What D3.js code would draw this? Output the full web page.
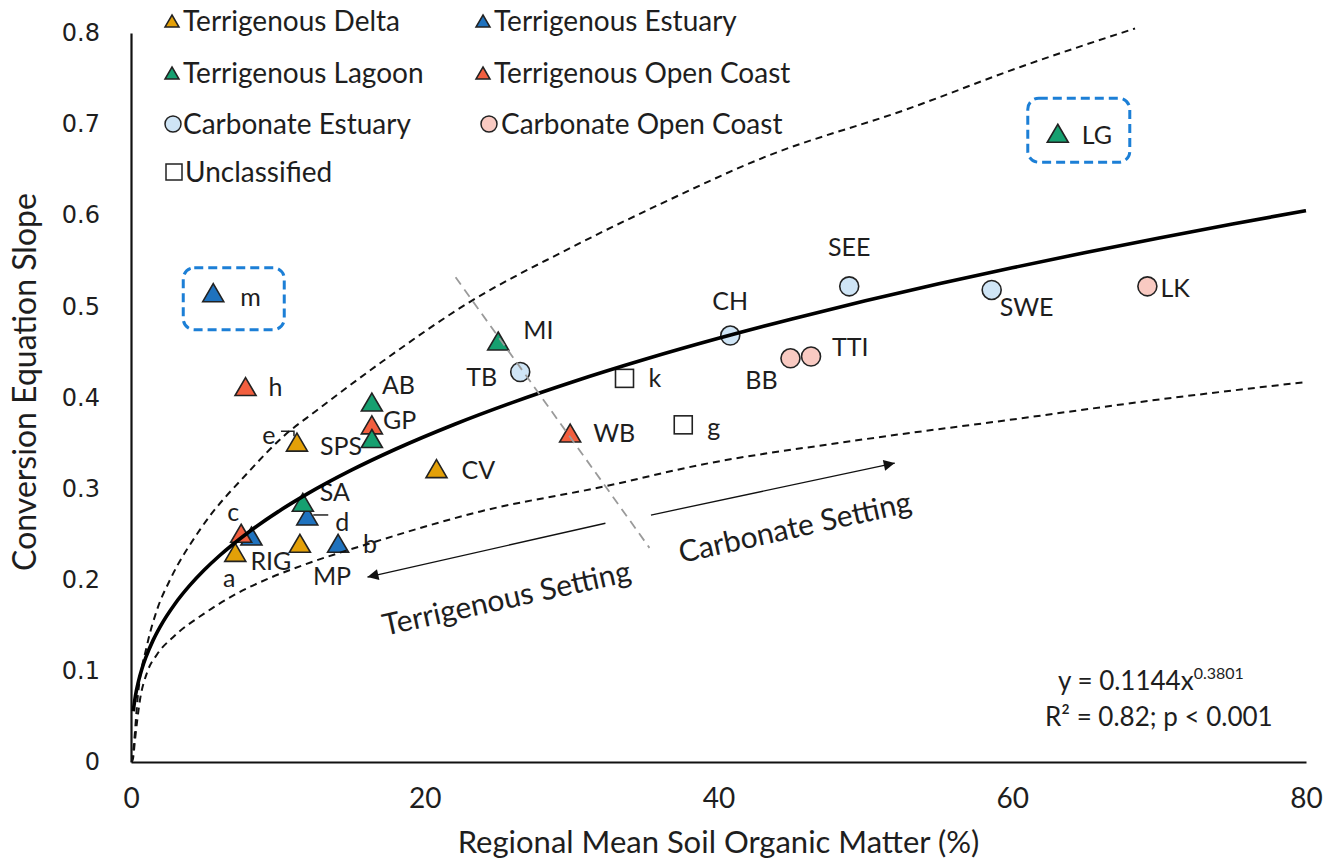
<!DOCTYPE html>
<html><head><meta charset="utf-8">
<script src="https://cdn.jsdelivr.net/npm/d3@7"></script>
<style>
body{margin:0;background:#fff}
svg{display:block}
text{font-family:Lato, "Open Sans", sans-serif; fill:#1e1e1e}
</style>
</head><body>
<svg id="chart" width="1326" height="868"></svg>
<script>
// ---------------- DATA ----------------
const xTicks = [0, 20, 40, 60, 80];
const xTickLabels = ["0", "20", "40", "60", "80"];
const yTicks = [0, 0.1, 0.2, 0.3, 0.4, 0.5, 0.6, 0.7, 0.8];
const yTickLabels = ["0", "0.1", "0.2", "0.3", "0.4", "0.5", "0.6", "0.7", "0.8"];

const seriesNames = ["Terrigenous Delta", "Terrigenous Estuary", "Terrigenous Lagoon",
  "Terrigenous Open Coast", "Carbonate Estuary", "Carbonate Open Coast", "Unclassified"];

// [soil organic matter %, conversion slope, site label]
const terrDelta   = [[7.1, 0.230, "a"], [11.3, 0.351, "SPS"], [11.5, 0.240, "MP"], [20.8, 0.322, "CV"]];
const terrEstuary = [[5.6, 0.515, "m"], [8.2, 0.248, "RIG"], [12.0, 0.270, "d"], [14.1, 0.240, "b"]];
const terrOpen    = [[7.8, 0.412, "h"], [7.5, 0.251, "c"], [16.4, 0.370, "GP"], [29.9, 0.361, "WB"]];
const terrLagoon  = [[63.1, 0.690, "LG"], [25.0, 0.462, "MI"], [16.4, 0.395, "AB"], [16.4, 0.355, ""], [11.7, 0.285, "SA"]];
const carbEstuary = [[26.5, 0.428, "TB"], [40.8, 0.468, "CH"], [48.9, 0.522, "SEE"], [58.6, 0.518, "SWE"]];
const carbOpen    = [[44.9, 0.443, "BB"], [46.3, 0.445, "TTI"], [69.2, 0.522, "LK"]];
const unclassified = [[33.6, 0.421, "k"], [37.6, 0.370, "g"]];

// power trendline shown in the chart: y = 0.1144 x^0.3801
const fitCoef = 0.1144, fitExp = 0.3801;
const fitX = [0.15, 0.3, 0.5, 0.75, 1, 1.5, 2, 3, 4, 5, 6, 8, 10, 12, 15, 18, 22, 26, 30, 35, 40, 45, 50, 55, 60, 65, 70, 75, 80];

// dashed envelope curves
const upperBandX = [0.05, 0.14, 0.48, 1.09, 1.77, 2.66, 4.70, 8.10, 10.35, 12.66, 17.16, 23.08, 29.41, 36.0, 43.17, 52.77, 60.60, 68.36];
const upperBandY = [0.0, 0.010, 0.075, 0.128, 0.167, 0.200, 0.255, 0.320, 0.357, 0.386, 0.440, 0.505, 0.560, 0.612, 0.664, 0.716, 0.763, 0.805];
const lowerBandX = [0.05, 0.14, 0.27, 0.61, 1.09, 1.77, 2.86, 4.90, 7.22, 9.46, 11.71, 16.48, 23.8, 32.41, 38.74, 49.0, 60.53, 70.1, 80.0];
const lowerBandY = [0.0, 0.004, 0.024, 0.068, 0.098, 0.118, 0.137, 0.162, 0.185, 0.202, 0.216, 0.241, 0.275, 0.303, 0.326, 0.352, 0.377, 0.398, 0.417];

// setting divider and arrows (data coordinates)
const dividerX = [22.1, 35.3], dividerY = [0.532, 0.235];
const terrArrowX = [32.3, 16.1], terrArrowY = [0.262, 0.203];
const carbArrowX = [35.4, 52.0], carbArrowY = [0.271, 0.328];
const settingLabels = ["Terrigenous Setting", "Carbonate Setting"];
const eqLine1 = ["y = 0.1144x", "0.3801"];
const eqLine2 = "R² = 0.82; p < 0.001";
const xTitle = "Regional Mean Soil Organic Matter (%)";
const yTitle = "Conversion Equation Slope";

// ---------------- STYLE ----------------
const seriesStyle = [
  {data: terrDelta,   shape: "tri", fill: "#E3A008"},
  {data: terrEstuary, shape: "tri", fill: "#1F72BE"},
  {data: terrLagoon,  shape: "tri", fill: "#16A070"},
  {data: terrOpen,    shape: "tri", fill: "#F25F3F"},
  {data: carbEstuary, shape: "circ", fill: "#CFE5F6"},
  {data: carbOpen,    shape: "circ", fill: "#F9CAC2"},
  {data: unclassified, shape: "sq", fill: "#FFFFFF"}
];
// draw order (lagoon drawn over open coast)
const drawOrder = [0, 1, 3, 2, 4, 5, 6];

// label offsets in px: [dx, dy, anchor]
const labelPos = {
  a: [-6, 26, "middle"], SPS: [23, 4, "start"], MP: [13, 33, "start"], CV: [25, 2, "start"],
  m: [27, 5, "start"], RIG: [-1, 25, "start"], d: [28, 6, "start"], b: [25, 1, "start"],
  LG: [24, 2, "start"], MI: [25, -11, "start"], AB: [10, -17, "start"], SA: [17, -10, "start"],
  h: [23, 1, "start"], c: [-8, -21, "middle"], GP: [11, -5, "start"], WB: [23, 0, "start"],
  TB: [-23, 5, "end"], CH: [0, -34, "middle"], SEE: [0, -39, "middle"], SWE: [8, 17, "start"],
  BB: [-29, 22, "middle"], TTI: [21, -9, "start"], LK: [13, 2, "start"],
  k: [24, 0, "start"], g: [24, 2, "start"]
};

// ---------------- CHART ----------------
const svg = d3.select("#chart");
svg.append("rect").attr("width", 1326).attr("height", 868).attr("fill", "#fff");

const x = d3.scaleLinear().domain([0, 80]).range([131, 1306]);
const y = d3.scaleLinear().domain([0, 0.8]).range([762, 33]);

// axes
const xAxis = svg.append("g").attr("transform", "translate(0,762)")
  .call(d3.axisBottom(x).tickValues(xTicks).tickSize(0).tickPadding(26)
    .tickFormat((d, i) => xTickLabels[i]));
const yAxis = svg.append("g").attr("transform", "translate(131,0)")
  .call(d3.axisLeft(y).tickValues(yTicks).tickSize(0).tickPadding(31)
    .tickFormat((d, i) => yTickLabels[i]));
[xAxis, yAxis].forEach(g => g.select(".domain").attr("stroke", "#111").attr("stroke-width", 2.2));
xAxis.selectAll("text").style("font-family", "Lato, sans-serif").style("font-size", "28px").attr("fill", "#1e1e1e");
yAxis.selectAll("text").style("font-family", "'DejaVu Sans', Verdana, sans-serif").style("font-size", "24px").attr("fill", "#1e1e1e");

svg.append("text").attr("x", (x(0) + x(80)) / 2 + 0).attr("y", 853)
  .attr("text-anchor", "middle").style("font-size", "31px").text(xTitle);
svg.append("text").attr("transform", "translate(36," + 382 + ") rotate(-90)")
  .attr("text-anchor", "middle").style("font-size", "32px").text(yTitle);

// markers
const triPath = (w, h) => `M0,${-h / 2}L${w / 2},${h / 2}L${-w / 2},${h / 2}Z`;
function drawMarker(g, shape, fill) {
  if (shape === "tri") g.append("path").attr("d", triPath(21, 18));
  else if (shape === "circ") g.append("circle").attr("r", 9.5);
  else g.append("rect").attr("x", -9).attr("y", -9).attr("width", 18).attr("height", 18);
  g.selectAll("path,circle,rect").attr("fill", fill).attr("stroke", "#222").attr("stroke-width", 1.6);
}

// annotation boxes around m and LG
const boxFor = {m: [-30, -25, 101, 62], LG: [-30, -35, 102, 64]};
seriesStyle.forEach(s => s.data.forEach(d => {
  if (boxFor[d[2]]) {
    const b = boxFor[d[2]];
    svg.append("rect").attr("x", x(d[0]) + b[0]).attr("y", y(d[1]) + b[1])
      .attr("width", b[2]).attr("height", b[3]).attr("rx", 11)
      .attr("fill", "none").attr("stroke", "#1C7FD6").attr("stroke-width", 3)
      .attr("stroke-dasharray", "9,5");
  }
}));

const markLayer = svg.append("g");
drawOrder.forEach(i => {
  const s = seriesStyle[i];
  s.data.forEach(d => {
    const g = markLayer.append("g").attr("transform", `translate(${x(d[0])},${y(d[1])})`);
    drawMarker(g, s.shape, s.fill);
  });
});

// labels
const labelLayer = svg.append("g");
seriesStyle.forEach(s => s.data.forEach(d => {
  const p = labelPos[d[2]];
  if (!p) return;
  labelLayer.append("text").attr("x", x(d[0]) + p[0]).attr("y", y(d[1]) + p[1])
    .attr("dy", "0.35em").attr("text-anchor", p[2]).style("font-size", "25px").text(d[2]);
}));
// "e" label with leader, next to SPS
const sps = terrDelta[1];
labelLayer.append("text").attr("x", x(sps[0]) - 28).attr("y", y(sps[1]) - 7).attr("dy", "0.35em")
  .attr("text-anchor", "middle").style("font-size", "25px").text("e");
labelLayer.append("path").attr("d", `M${x(sps[0]) - 16},${y(sps[1]) - 11}H${x(sps[0]) - 3}v5`)
  .attr("stroke", "#222").attr("stroke-width", 1.5).attr("fill", "none");
// "d" leader
const dd = terrEstuary[2];
labelLayer.append("path").attr("d", `M${x(dd[0]) + 6},${y(dd[1]) - 1}H${x(dd[0]) + 21}`)
  .attr("stroke", "#222").attr("stroke-width", 1.5);

// lines
const line = d3.line().x(d => x(d[0])).y(d => y(d[1])).curve(d3.curveMonotoneX);
svg.append("path").datum(upperBandX.map((v, i) => [v, upperBandY[i]]))
  .attr("d", line).attr("fill", "none").attr("stroke", "#111").attr("stroke-width", 2).attr("stroke-dasharray", "7,5");
svg.append("path").datum(lowerBandX.map((v, i) => [v, lowerBandY[i]]))
  .attr("d", line).attr("fill", "none").attr("stroke", "#111").attr("stroke-width", 2).attr("stroke-dasharray", "7,5");
svg.append("path").datum(fitX.map(v => [v, fitCoef * Math.pow(v, fitExp)]))
  .attr("d", line).attr("fill", "none").attr("stroke", "#000").attr("stroke-width", 3.6);

// divider
svg.append("line").attr("x1", x(dividerX[0])).attr("y1", y(dividerY[0]))
  .attr("x2", x(dividerX[1])).attr("y2", y(dividerY[1]))
  .attr("stroke", "#9a9a9a").attr("stroke-width", 1.8).attr("stroke-dasharray", "9,6");

// arrows
svg.append("defs").append("marker").attr("id", "ah").attr("viewBox", "0 0 10 10")
  .attr("refX", 10).attr("refY", 5).attr("markerUnits", "userSpaceOnUse")
  .attr("markerWidth", 15).attr("markerHeight", 11).attr("orient", "auto")
  .append("path").attr("d", "M0,0L10,5L0,10Z").attr("fill", "#111");
[[terrArrowX, terrArrowY], [carbArrowX, carbArrowY]].forEach(a => {
  svg.append("line").attr("x1", x(a[0][0])).attr("y1", y(a[1][0]))
    .attr("x2", x(a[0][1])).attr("y2", y(a[1][1]))
    .attr("stroke", "#111").attr("stroke-width", 1.3).attr("marker-end", "url(#ah)");
});
const ang = Math.atan2(y(carbArrowY[1]) - y(carbArrowY[0]), x(carbArrowX[1]) - x(carbArrowX[0])) * 180 / Math.PI;
const midT = [(x(terrArrowX[0]) + x(terrArrowX[1])) / 2 + 20, (y(terrArrowY[0]) + y(terrArrowY[1])) / 2 + 48];
const midC = [(x(carbArrowX[0]) + x(carbArrowX[1])) / 2 + 22, (y(carbArrowY[0]) + y(carbArrowY[1])) / 2 + 38];
[[midT, settingLabels[0]], [midC, settingLabels[1]]].forEach(t => {
  svg.append("text").attr("transform", `translate(${t[0][0]},${t[0][1]}) rotate(${ang - 0.5})`)
    .attr("text-anchor", "middle").attr("dy", "0.35em").style("font-size", "30px").text(t[1]);
});

// equation
const eq = svg.append("text").attr("x", 1058).attr("y", 690).style("font-size", "26px");
eq.append("tspan").text(eqLine1[0]);
eq.append("tspan").attr("dy", -11).style("font-size", "16px").text(eqLine1[1]);
svg.append("text").attr("x", 1045).attr("y", 726).style("font-size", "26px").text(eqLine2);

// legend
const legPos = [[172, 21], [483, 21], [172, 73], [483, 73], [173, 124], [489, 124], [174, 172]];
const legTextX = [183, 494, 183, 494, 183, 501, 185];
seriesStyle.forEach((s, i) => {
  const g = svg.append("g").attr("transform", `translate(${legPos[i][0]},${legPos[i][1]})`);
  if (s.shape === "tri") g.append("path").attr("d", triPath(14, 12));
  else if (s.shape === "circ") g.append("circle").attr("r", 8);
  else g.append("rect").attr("x", -8).attr("y", -8).attr("width", 16).attr("height", 16);
  g.selectAll("path,circle,rect").attr("fill", s.fill).attr("stroke", "#222").attr("stroke-width", 1.5);
  svg.append("text").attr("x", legTextX[i]).attr("y", legPos[i][1]).attr("dy", "0.35em")
    .style("font-size", "28px").text(seriesNames[i]);
});
</script>
</body></html>
